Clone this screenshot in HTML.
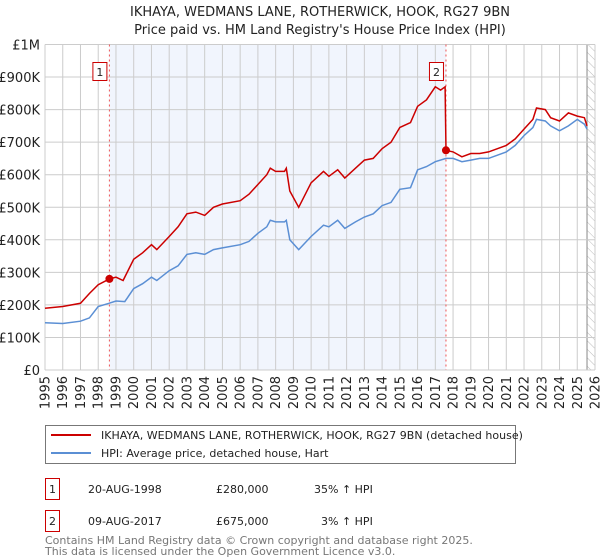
<!DOCTYPE html>
<html><head><meta charset="utf-8">
<style>
body{margin:0;background:#fff;font-family:"Liberation Sans","DejaVu Sans",sans-serif;}
#wrap{position:relative;width:600px;height:560px;overflow:hidden;}
svg text{font-family:"DejaVu Sans","Liberation Sans",sans-serif;}
</style></head>
<body>
<div id="wrap">
<svg id="chart" width="600" height="560" xmlns="http://www.w3.org/2000/svg">
<text x="320" y="16" text-anchor="middle" font-size="13" fill="#222">IKHAYA, WEDMANS LANE, ROTHERWICK, HOOK, RG27 9BN</text>
<text x="320" y="34" text-anchor="middle" font-size="13" fill="#222">Price paid vs. HM Land Registry's House Price Index (HPI)</text>
<defs><pattern id="hatch" width="6" height="6" patternUnits="userSpaceOnUse" patternTransform="rotate(-45)"><line x1="0" y1="0" x2="0" y2="6" stroke="#bbb" stroke-width="1"/></pattern></defs>
<g id="grid"></g>
<g id="marks"></g>
<g id="axes"></g>
<g>
<rect x="45.5" y="425.5" width="470" height="38" fill="#fff" stroke="#777"/>
<line x1="51" y1="435" x2="91" y2="435" stroke="#cc0000" stroke-width="2"/>
<text x="101" y="439" font-size="11" fill="#222">IKHAYA, WEDMANS LANE, ROTHERWICK, HOOK, RG27 9BN (detached house)</text>
<line x1="51" y1="453" x2="91" y2="453" stroke="#5b8fd4" stroke-width="2"/>
<text x="101" y="457" font-size="11" fill="#222">HPI: Average price, detached house, Hart</text>
</g>
<g>
<rect x="45.5" y="478.5" width="14" height="21" fill="#fff" stroke="#cc0000"/>
<text x="52.5" y="493" text-anchor="middle" font-size="11" fill="#222">1</text>
<text x="88" y="493" font-size="11" fill="#222">20-AUG-1998</text>
<text x="216" y="493" font-size="11" fill="#222">£280,000</text>
<text x="314" y="493" font-size="11" fill="#222">35% ↑ HPI</text>
<rect x="45.5" y="510.5" width="14" height="21" fill="#fff" stroke="#cc0000"/>
<text x="52.5" y="525" text-anchor="middle" font-size="11" fill="#222">2</text>
<text x="88" y="525" font-size="11" fill="#222">09-AUG-2017</text>
<text x="216" y="525" font-size="11" fill="#222">£675,000</text>
<text x="321" y="525" font-size="11" fill="#222">3% ↑ HPI</text>
</g>
<text x="45" y="544" font-size="11" fill="#777">Contains HM Land Registry data © Crown copyright and database right 2025.</text>
<text x="45" y="555" font-size="11" fill="#777">This data is licensed under the Open Government Licence v3.0.</text>
</svg>
</div>
<script>
const hpiYears=[1995,1996,1997,1997.5,1998,1998.6,1999,1999.5,2000,2000.5,2001,2001.3,2002,2002.5,2003,2003.5,2004,2004.5,2005,2006,2006.5,2007,2007.5,2007.7,2008,2008.5,2008.6,2008.8,2009.3,2010,2010.7,2011,2011.5,2011.9,2012.5,2013,2013.5,2014,2014.5,2015,2015.6,2016,2016.5,2017,2017.6,2018,2018.5,2019,2019.5,2020,2020.5,2021,2021.5,2022,2022.5,2022.7,2023.2,2023.5,2024,2024.5,2025,2025.4,2025.55];
const hpiValues=[145,143,150,160,195,205,212,210,250,265,285,275,305,320,355,360,355,370,375,385,395,420,440,460,455,455,460,400,370,410,445,440,460,435,455,470,480,505,515,555,560,615,625,640,650,650,640,645,650,650,660,670,690,720,745,770,765,750,735,750,770,755,740];
const propYears=[1995,1996,1997,1997.5,1998,1998.63,1999,1999.4,2000,2000.5,2001,2001.3,2002,2002.5,2003,2003.5,2004,2004.5,2005,2006,2006.5,2007,2007.5,2007.7,2008,2008.5,2008.6,2008.8,2009.3,2010,2010.7,2011,2011.5,2011.9,2012.5,2013,2013.5,2014,2014.5,2015,2015.6,2016,2016.5,2017,2017.3,2017.55,2017.6,2018,2018.5,2019,2019.5,2020,2020.5,2021,2021.5,2022,2022.5,2022.7,2023.2,2023.5,2024,2024.5,2025,2025.4,2025.55];
const propValues=[190,195,205,235,262,280,285,275,340,360,385,370,410,440,480,485,475,500,510,520,540,570,600,620,610,610,620,550,500,575,610,595,615,590,620,645,650,680,700,745,760,810,830,870,860,870,675,670,655,665,665,670,680,690,710,740,770,805,800,775,765,790,780,775,750];
const saleYears=[1998.63,2017.6];
const saleValues=[280,675];
const saleLabels=["1","2"];
const yTicks=[0,100,200,300,400,500,600,700,800,900,1000];
const yTickLabels=["£0","£100K","£200K","£300K","£400K","£500K","£600K","£700K","£800K","£900K","£1M"];
const xTicks=[1995,1996,1997,1998,1999,2000,2001,2002,2003,2004,2005,2006,2007,2008,2009,2010,2011,2012,2013,2014,2015,2016,2017,2018,2019,2020,2021,2022,2023,2024,2025,2026];

const L=45,R=595,T=44.5,B=370;
const xs=y=>L+(y-1995)/(2026-1995)*(R-L);
const ys=v=>B-v/1000*(B-T);
const NS="http://www.w3.org/2000/svg";
function mk(tag,attrs,parent){const e=document.createElementNS(NS,tag);for(const k in attrs)e.setAttribute(k,attrs[k]);parent.appendChild(e);return e;}
const grid=document.getElementById('grid'),marks=document.getElementById('marks'),axes=document.getElementById('axes');

const band=mk('rect',{x:xs(saleYears[0]),y:T,width:xs(saleYears[1])-xs(saleYears[0]),height:B-T,fill:'#f1f5fd'},grid);


const hatch=mk('rect',{x:xs(2025.55),y:T,width:R-xs(2025.55),height:B-T,fill:'url(#hatch)'},grid);


mk('line',{x1:xs(2025.55),x2:xs(2025.55),y1:T,y2:B,stroke:'#888','stroke-width':1},grid);

yTicks.forEach((v,i)=>{
  const g=mk('line',{x1:L,x2:R,y1:ys(v),y2:ys(v),stroke:'#ccc','stroke-width':1},grid);
  
  
  const t=mk('text',{x:L-5,y:ys(v)+5,'text-anchor':'end','font-size':13,fill:'#222'},axes);
  t.textContent=yTickLabels[i];
  
  
});
xTicks.forEach(y=>{
  const g=mk('line',{x1:xs(y),x2:xs(y),y1:T,y2:B,stroke:'#ccc','stroke-width':1},grid);
  
  
  const t=mk('text',{x:0,y:0,'text-anchor':'end','font-size':13,fill:'#222',transform:`translate(${xs(y)+4.5},376) rotate(-90)`},axes);
  t.textContent=y;
  
  
});

saleYears.forEach((y,i)=>{
  const v=mk('line',{x1:xs(y),x2:xs(y),y1:T,y2:B,stroke:'#ee5555','stroke-width':1,'stroke-dasharray':'2,3'},marks);
  
  
  const r=mk('rect',{x:xs(y)-16.5,y:62.5,width:14,height:18,fill:'#fff',stroke:'#cc0000'},marks);
  
  
  const t=mk('text',{x:xs(y)-9.5,y:76,'text-anchor':'middle','font-size':11,fill:'#222'},marks);
  t.textContent=saleLabels[i];
  
  
});

function path(xa,va){return xa.map((y,i)=>(i?'L':'M')+xs(y).toFixed(1)+','+ys(va[i]).toFixed(1)).join('');}
const hp=mk('path',{d:path(hpiYears,hpiValues),fill:'none',stroke:'#5b8fd4','stroke-width':1.5},marks);


const pp=mk('path',{d:path(propYears,propValues),fill:'none',stroke:'#cc0000','stroke-width':1.5},marks);


saleYears.forEach((y,i)=>{
  const c=mk('circle',{cx:xs(y),cy:ys(saleValues[i]),r:4,fill:'#cc0000'},marks);
  
  
});
</script>
</body></html>
